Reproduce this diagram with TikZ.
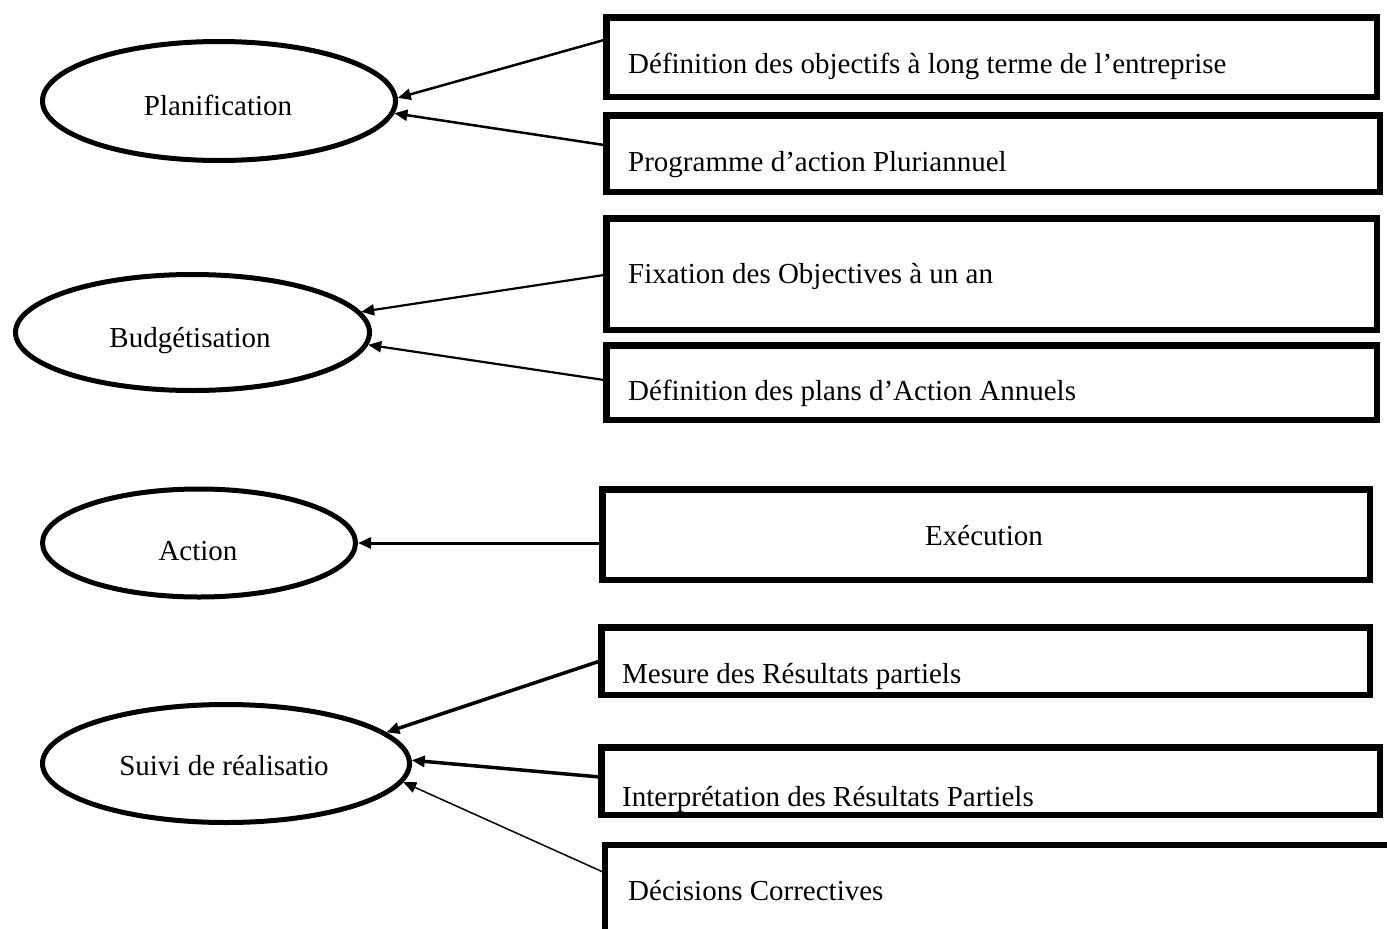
\documentclass[tikz,border=0pt]{standalone}
\usepackage{fontspec}
\setmainfont{Liberation Serif}
\usetikzlibrary{arrows.meta,shapes.geometric}
\begin{document}
\begin{tikzpicture}[x=1pt,y=-1pt,
  ell/.style={ellipse, draw, line width=5pt, inner sep=0pt},
  box/.style={rectangle, draw, line width=6.5pt, inner sep=0pt},
  txt/.style={inner sep=0pt, font=\fontsize{29}{35}\selectfont},
  lbl/.style={txt, anchor=base west},
  ctr/.style={txt, anchor=base},
  arr/.style={-{Triangle[length=13pt,width=11pt]}, line width=2.5pt}]
\useasboundingbox (0,0) rectangle (1387,929);
\clip (0,0) rectangle (1387,929);

% stages
\node[ell, minimum width=353pt, minimum height=119pt] (plan)  at (219,101)   {};
\node[ell, minimum width=354pt, minimum height=116pt] (budg)  at (192.5,332.5) {};
\node[ell, minimum width=313pt, minimum height=108pt] (act)   at (199,543)   {};
\node[ell, minimum width=367pt, minimum height=118pt] (suivi) at (226,763.5) {};

\node[ctr] (tplan)  at (218,115) {Planification};
\node[ctr] (tbudg)  at (190,347) {Budgétisation};
\node[ctr] (tact)   at (198,560) {Action};
\node[ctr] (tsuivi) at (224,775) {Suivi de réalisatio};

% task texts
\node[lbl] (t1) at (628,73)  {Définition des objectifs à long terme de l’entreprise};
\node[lbl] (t2) at (628,171) {Programme d’action Pluriannuel};
\node[lbl] (t3) at (628,283) {Fixation des Objectives à un an};
\node[lbl] (t4) at (628,400) {Définition des plans d’Action Annuels};
\node[ctr] (t5) at (984,545) {Exécution};
\node[lbl] (t6) at (622,683) {Mesure des Résultats partiels};
\node[lbl] (t7) at (622,806) {Interprétation des Résultats Partiels};
\node[lbl] (t8) at (628,900) {Décisions Correctives};

% task boxes
\node[box, minimum width=770.5pt, minimum height=79.5pt]  (b1) at (991.5,57)    {};
\node[box, minimum width=773.5pt, minimum height=76.5pt]  (b2) at (993,153.5)   {};
\node[box, minimum width=770.5pt, minimum height=111.5pt] (b3) at (991.5,274)   {};
\node[box, minimum width=770.5pt, minimum height=74.5pt]  (b4) at (991.5,382.5) {};
\node[box, minimum width=767.5pt, minimum height=90.5pt]  (b5) at (986,534.5)   {};
\node[box, minimum width=768.5pt, minimum height=67.5pt]  (b6) at (985.5,661)   {};
\node[box, minimum width=778.5pt, minimum height=67.5pt]  (b7) at (990.5,781)   {};
\node[box, minimum width=894.75pt, minimum height=154.75pt] (b8) at (1052.6,922.6) {};

% connector start points on the box edges
\coordinate (s1) at (604,40);
\coordinate (s2) at (604,145);
\coordinate (s3) at (604,275);
\coordinate (s4) at (604,380);
\coordinate (s5) at (600,543);
\coordinate (s6) at (600,661);
\coordinate (s7) at (600,777);
\coordinate (s8) at (603,872);

\draw[arr] (s1) -- (plan.1);
\draw[arr] (s2) -- (plan.-4.5);
\draw[arr, line width=2.2pt] (s3) -- (budg.7);
\draw[arr, line width=2.2pt] (s4) -- (budg.-4);
\draw[arr, line width=3pt] (s5) -- (act.east);
\draw[arr, line width=3.5pt] (s6) -- (suivi.11.5);
\draw[arr, line width=3.5pt] (s7) -- (suivi.1);
\draw[arr, line width=1.5pt] (s8) -- (suivi.-6.5);
\end{tikzpicture}
\end{document}
